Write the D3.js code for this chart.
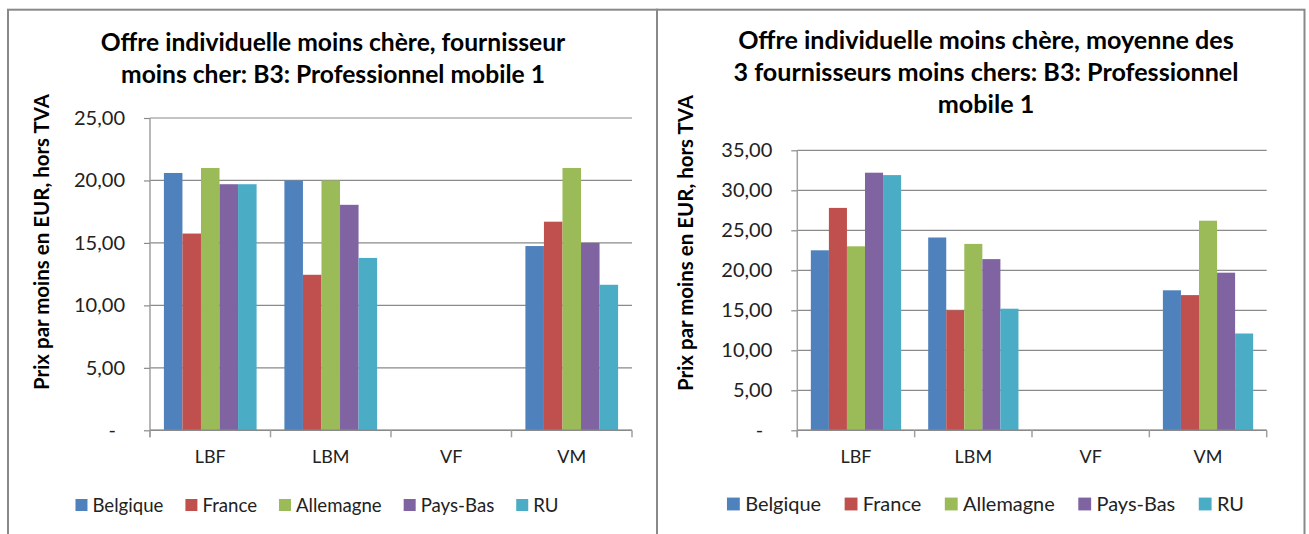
<!DOCTYPE html>
<html>
<head>
<meta charset="utf-8">
<script src="https://cdn.jsdelivr.net/npm/d3@7"></script>
<style>
  html, body { margin: 0; padding: 0; background: #fff; }
  svg { display: block; font-family: Lato, "Open Sans", sans-serif; }
</style>
</head>
<body>
<svg id="chart" width="1309" height="534"></svg>
<script>
// ---------- DATA ----------
const categories = ["LBF", "LBM", "VF", "VM"];
const seriesNames = ["Belgique", "France", "Allemagne", "Pays-Bas", "RU"];
const seriesColors = ["#4F81BD", "#C0504D", "#9BBB59", "#8064A2", "#4BACC6"];

// Left chart: fournisseur moins cher
const leftBelgique  = [20.6, 20.0, 0, 14.75];
const leftFrance    = [15.75, 12.45, 0, 16.7];
const leftAllemagne = [21.0, 20.0, 0, 21.0];
const leftPaysBas   = [19.7, 18.05, 0, 15.0];
const leftRU        = [19.7, 13.8, 0, 11.65];
const leftTicks = [0, 5, 10, 15, 20, 25];
const leftTitle = ["Offre individuelle moins chère, fournisseur", "moins cher: B3: Professionnel mobile 1"];

// Right chart: moyenne des 3 fournisseurs moins chers
const rightBelgique  = [22.5, 24.1, 0, 17.5];
const rightFrance    = [27.8, 15.0, 0, 16.9];
const rightAllemagne = [23.0, 23.3, 0, 26.2];
const rightPaysBas   = [32.2, 21.4, 0, 19.7];
const rightRU        = [31.9, 15.2, 0, 12.1];
const rightTicks = [0, 5, 10, 15, 20, 25, 30, 35];
const rightTitle = ["Offre individuelle moins chère, moyenne des", "3 fournisseurs moins chers: B3: Professionnel", "mobile 1"];

const yLabel = "Prix par moins en EUR, hors TVA";

// ---------- HELPERS ----------
const svg = d3.select("#chart");
svg.append("rect").attr("width", 1309).attr("height", 534).attr("fill", "#fff");

function measure(text, size, weight) {
  const t = svg.append("text").attr("font-size", size).attr("font-weight", weight).text(text);
  const w = t.node().getComputedTextLength();
  t.remove();
  return w;
}
function fit(text, target, weight) {
  return 100 * target / measure(text, 100, weight);
}
const fmt = d => d === 0 ? "-" : d3.format(".2f")(d).replace(".", ",");

const ylabSize   = fit(yLabel, 296, "bold");
const tickSize   = fit("25,00", 51, "normal");
const catSize    = fit("LBF", 31, "normal");

// frames
svg.append("rect").attr("x", 8).attr("y", 9.7).attr("width", 649).attr("height", 600)
  .attr("fill", "none").attr("stroke", "#898989").attr("stroke-width", 2);
svg.append("rect").attr("x", 657).attr("y", 9.7).attr("width", 647.5).attr("height", 600)
  .attr("fill", "none").attr("stroke", "#898989").attr("stroke-width", 2);

function drawChart(cfg) {
  const titleSize  = fit(cfg.title[0], cfg.titleWidth, "bold");
  const legendSize = fit("Belgique", cfg.legendWidth, "normal");
  const g = svg.append("g");
  const x = d3.scaleBand().domain(categories).range([cfg.x0, cfg.x1]).paddingInner(0).paddingOuter(0);
  const xs = d3.scaleBand().domain(seriesNames).range([0, x.bandwidth()]).paddingInner(0).paddingOuter(0.75);
  const y = d3.scaleLinear().domain([0, d3.max(cfg.ticks)]).range([cfg.yBot, cfg.yTop]);

  // gridlines
  g.append("g").selectAll("line").data(cfg.ticks).join("line")
    .attr("x1", cfg.x0).attr("x2", cfg.x1)
    .attr("y1", d => y(d)).attr("y2", d => y(d))
    .attr("stroke", "#8a8a8a").attr("stroke-width", 1.2);

  // y axis
  const yAxis = g.append("g").attr("transform", `translate(${cfg.x0},0)`)
    .call(d3.axisLeft(y).tickValues(cfg.ticks).tickSize(6).tickPadding(19).tickFormat(fmt));
  yAxis.select(".domain").attr("stroke", "#a0a0a0").attr("stroke-width", 1.5)
    .attr("d", `M0,${cfg.yTop}V${cfg.yBot + 7}`);
  yAxis.selectAll(".tick line").attr("stroke", "#8a8a8a").attr("stroke-width", 1.2);
  yAxis.selectAll(".tick text").attr("font-size", tickSize).attr("fill", "#222")
    .attr("font-family", "Lato, 'Open Sans', sans-serif")
    .attr("dx", d => d === 0 ? -9 : 0);

  // bars
  const bars = g.append("g");
  cfg.series.forEach((vals, si) => {
    bars.append("g").selectAll("rect").data(vals).join("rect")
      .attr("x", (d, i) => x(categories[i]) + xs(seriesNames[si]))
      .attr("width", xs.bandwidth())
      .attr("y", d => y(d))
      .attr("height", d => y(0) - y(d))
      .attr("fill", seriesColors[si]);
  });

  // x axis baseline and boundary ticks
  g.append("line").attr("x1", cfg.x0).attr("x2", cfg.x1).attr("y1", y(0)).attr("y2", y(0))
    .attr("stroke", "#8a8a8a").attr("stroke-width", 1.5);
  const bounds = categories.map(c => x(c)).concat([cfg.x1]);
  g.append("g").selectAll("line").data(bounds).join("line")
    .attr("x1", d => d).attr("x2", d => d)
    .attr("y1", y(0)).attr("y2", y(0) + 7)
    .attr("stroke", "#a0a0a0").attr("stroke-width", 1.5);
  const xAxis = g.append("g").attr("transform", `translate(0,${y(0)})`)
    .call(d3.axisBottom(x).tickSize(0).tickPadding(0));
  xAxis.select(".domain").remove();
  xAxis.selectAll(".tick text").attr("font-size", catSize).attr("fill", "#222")
    .attr("font-family", "Lato, 'Open Sans', sans-serif")
    .attr("y", cfg.catY - y(0)).attr("dy", "0.35em");

  // title
  g.append("g").selectAll("text").data(cfg.title).join("text")
    .attr("x", cfg.titleCx).attr("y", (d, i) => cfg.titleY0 + i * 32)
    .attr("text-anchor", "middle").attr("font-weight", "bold")
    .attr("font-size", titleSize).attr("fill", "#000").text(d => d);

  // y label
  g.append("text")
    .attr("transform", `translate(${cfg.ylabX},${cfg.ylabY}) rotate(-90)`)
    .attr("text-anchor", "middle").attr("dy", "0.35em")
    .attr("font-weight", "bold").attr("font-size", ylabSize).attr("fill", "#000")
    .text(yLabel);

  // legend
  const k = cfg.legendWidth / 71;
  const sq = 12 * k, gapT = 5 * k, gapI = 22 * k;
  const widths = seriesNames.map(s => measure(s, legendSize, "normal"));
  const total = d3.sum(widths) + seriesNames.length * (sq + gapT) + (seriesNames.length - 1) * gapI;
  let cx = cfg.legendCx - total / 2;
  const lg = g.append("g");
  seriesNames.forEach((s, i) => {
    lg.append("rect").attr("x", cx).attr("y", cfg.legendY - sq / 2).attr("width", sq).attr("height", sq)
      .attr("fill", seriesColors[i]);
    lg.append("text").attr("x", cx + sq + gapT).attr("y", cfg.legendY).attr("dy", "0.35em")
      .attr("font-size", legendSize).attr("fill", "#222").text(s);
    cx += sq + gapT + widths[i] + gapI;
  });
}

drawChart({
  x0: 150, x1: 632, yTop: 118, yBot: 430.3, ticks: leftTicks,
  series: [leftBelgique, leftFrance, leftAllemagne, leftPaysBas, leftRU],
  title: leftTitle, titleWidth: 465, titleCx: 333, titleY0: 51,
  ylabX: 42, ylabY: 242, catY: 457, legendCx: 317, legendY: 505, legendWidth: 71
});
drawChart({
  x0: 797.3, x1: 1266.7, yTop: 150.3, yBot: 430.3, ticks: rightTicks,
  series: [rightBelgique, rightFrance, rightAllemagne, rightPaysBas, rightRU],
  title: rightTitle, titleWidth: 496, titleCx: 986, titleY0: 49,
  ylabX: 686, ylabY: 243, catY: 456.5, legendCx: 985.5, legendY: 504, legendWidth: 76
});
</script>
</body>
</html>
